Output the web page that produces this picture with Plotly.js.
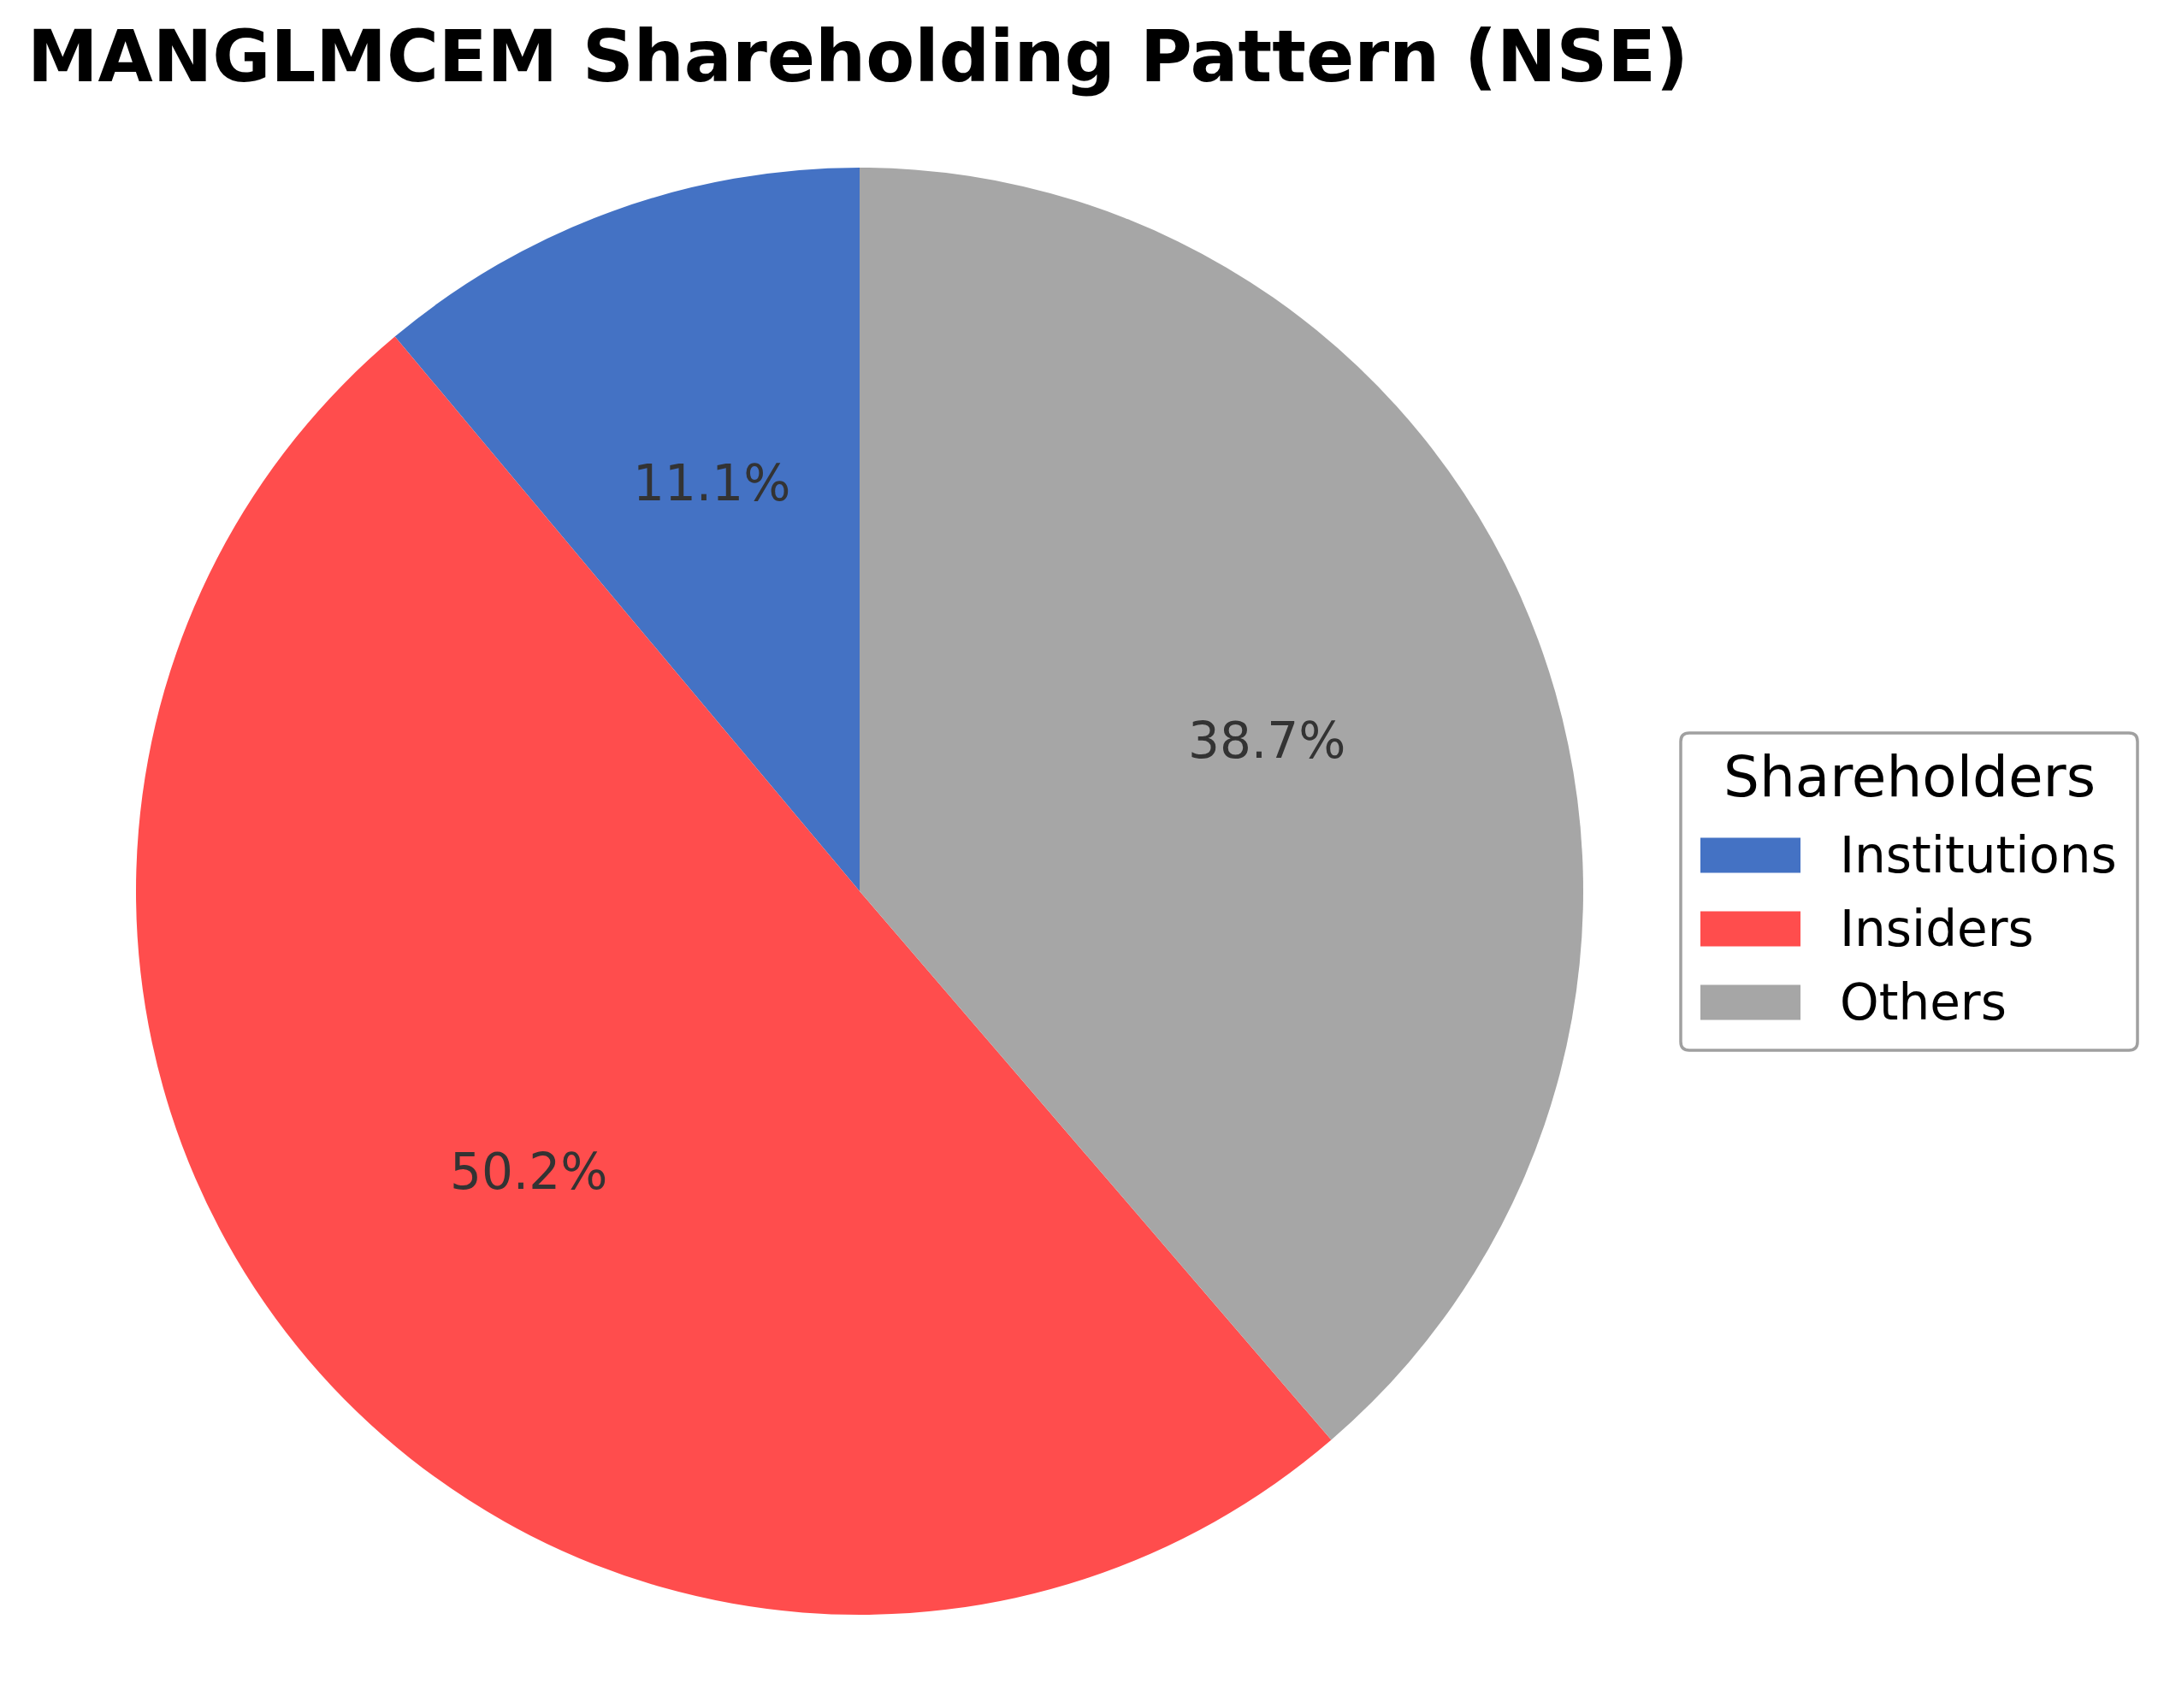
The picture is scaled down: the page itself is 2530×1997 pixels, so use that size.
<!DOCTYPE html>
<html>
<head>
<meta charset="utf-8">
<script src="https://cdn.plot.ly/plotly-3.0.1.min.js"></script>
<style>body{margin:0;background:#fff}</style>
</head>
<body>
<div id="chart"></div>
<script>
// shareholding split (percent)
const labels = ['Institutions', 'Insiders', 'Others'];
const shares = [11.1, 50.2, 38.7];
const colors = ['#4472C4', '#FF4D4D', '#A6A6A6'];
const chartTitle = 'MANGLMCEM Shareholding Pattern (NSE)';
const legendTitle = 'Shareholders';

const W = 2530, H = 1997;
const FONT = '"DejaVu Sans", "Liberation Sans", sans-serif';

// pie geometry in px, converted to paper coords (margins are 0)
const cx = 1005, cy = 1042, r = 846;
const px = x => x / W, py = y => 1 - y / H;

let total = shares.reduce((a, b) => a + b, 0);

// plotly's counterclockwise pie ends the first slice at 12 o'clock,
// so turn it back by the first slice to make it start there (startangle=90 look)
let trace = {
  type: 'pie',
  labels: labels,
  values: shares,
  marker: {colors: colors, line: {width: 0}},
  sort: false,
  direction: 'counterclockwise',
  rotation: -360 * shares[0] / total,
  textinfo: 'none',
  hoverinfo: 'label+percent',
  showlegend: false,
  domain: {x: [px(cx - r), px(cx + r)], y: [py(cy + r), py(cy - r)]}
};

// percent labels at 0.6 r along each slice bisector (like autopct)
let annotations = [];
let cum = 0;
shares.forEach(v => {
  let mid = (90 + 360 * (cum + v / 2) / total) * Math.PI / 180;
  cum += v;
  annotations.push({
    x: px(cx + 0.6 * r * Math.cos(mid)), y: py(cy - 0.6 * r * Math.sin(mid)),
    xref: 'paper', yref: 'paper', xanchor: 'center', yanchor: 'middle',
    showarrow: false,
    text: (v / total * 100).toFixed(1) + '%',
    font: {family: FONT, size: 58, color: '#333333'}
  });
});

// hand-built legend, matplotlib style
let lg = {x0: 1965, x1: 2499, y0: 857, y1: 1228, rad: 10};
let shapes = [{
  type: 'path', xref: 'paper', yref: 'paper',
  path: `M${px(lg.x0 + lg.rad)},${py(lg.y0)} L${px(lg.x1 - lg.rad)},${py(lg.y0)} ` +
        `Q${px(lg.x1)},${py(lg.y0)} ${px(lg.x1)},${py(lg.y0 + lg.rad)} ` +
        `L${px(lg.x1)},${py(lg.y1 - lg.rad)} Q${px(lg.x1)},${py(lg.y1)} ${px(lg.x1 - lg.rad)},${py(lg.y1)} ` +
        `L${px(lg.x0 + lg.rad)},${py(lg.y1)} Q${px(lg.x0)},${py(lg.y1)} ${px(lg.x0)},${py(lg.y1 - lg.rad)} ` +
        `L${px(lg.x0)},${py(lg.y0 + lg.rad)} Q${px(lg.x0)},${py(lg.y0)} ${px(lg.x0 + lg.rad)},${py(lg.y0)} Z`,
  line: {color: '#A0A0A0', width: 3.5},
  fillcolor: 'rgba(255,255,255,0.8)'
}];
annotations.push({
  x: px((lg.x0 + lg.x1) / 2), y: py(908), xref: 'paper', yref: 'paper',
  xanchor: 'center', yanchor: 'middle', showarrow: false,
  text: legendTitle, font: {family: FONT, size: 66, color: '#000'}
});
labels.forEach((name, i) => {
  let rowY = 1000 + i * 86;
  shapes.push({
    type: 'rect', xref: 'paper', yref: 'paper',
    x0: px(1988), x1: px(2105), y0: py(rowY + 20.5), y1: py(rowY - 20.5),
    fillcolor: colors[i], line: {width: 0}
  });
  annotations.push({
    x: px(2149), y: py(rowY), xref: 'paper', yref: 'paper',
    xanchor: 'left', yanchor: 'middle', showarrow: false,
    text: name, font: {family: FONT, size: 58, color: '#000'}
  });
});

let layout = {
  width: W, height: H,
  margin: {l: 0, r: 0, t: 0, b: 0},
  paper_bgcolor: '#fff',
  showlegend: false,
  title: {
    text: chartTitle, x: px(32), xanchor: 'left', xref: 'paper',
    y: py(66), yanchor: 'middle', yref: 'container',
    font: {family: FONT, size: 83, weight: 'bold', color: '#000'}
  },
  shapes: shapes,
  annotations: annotations
};

Plotly.newPlot('chart', [trace], layout, {displayModeBar: false, staticPlot: true});
</script>
</body>
</html>
